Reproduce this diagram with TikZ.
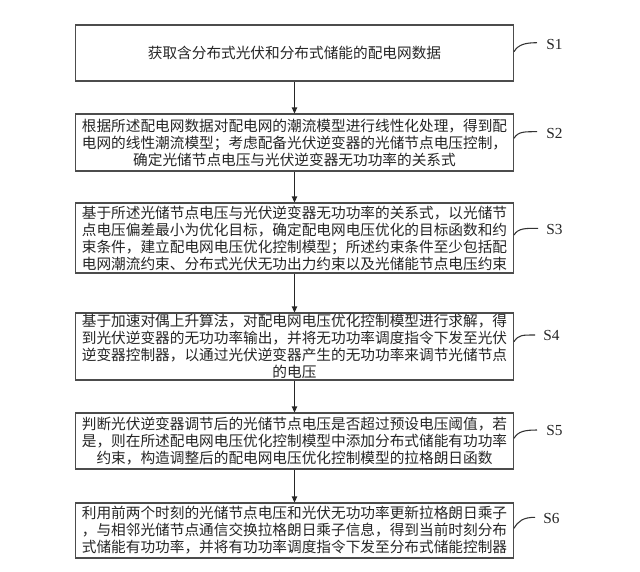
\documentclass[tikz,border=0pt]{standalone}
\usepackage{fontspec}
\setmainfont{Liberation Serif}
\newfontfamily\cjk{Noto Sans CJK SC}
\usetikzlibrary{arrows.meta,calc}
\tikzset{
  stepbox/.style={draw=black!70, line width=0.8pt, fill=white, minimum width=328.5pt,
    text width=324pt, align=center, inner xsep=0pt, inner ysep=0pt,
    font=\cjk\fontsize{11pt}{12.75pt}\selectfont, text=black!85},
  flow/.style={draw=black!85, line width=0.8pt, -{Triangle[length=4.5pt,width=4pt]}},
  leader/.style={draw=black!80, line width=0.8pt},
  steplabel/.style={font=\fontsize{11.5pt}{13pt}\selectfont, text=black!85, anchor=west, inner sep=0pt}
}
\begin{document}
\begin{tikzpicture}[x=0.75pt,y=-0.75pt]
\fill[white] (0,0) rectangle (640,572);
\useasboundingbox (0,0) rectangle (640,572);

\node[stepbox, minimum height=42pt] (b1) at (294.5,53) {获取含分布式光伏和分布式储能的配电网数据};
\node[stepbox, minimum height=42.75pt] (b2) at (294.5,142.5) {根据所述配电网数据对配电网的潮流模型进行线性化处理，得到配\\电网的线性潮流模型；考虑配备光伏逆变器的光储节点电压控制，\\确定光储节点电压与光伏逆变器无功功率的关系式};
\node[stepbox, minimum height=52.5pt] (b3) at (294.5,238) {基于所述光储节点电压与光伏逆变器无功功率的关系式，以光储节\\点电压偏差最小为优化目标，确定配电网电压优化的目标函数和约\\束条件，建立配电网电压优化控制模型；所述约束条件至少包括配\\电网潮流约束、分布式光伏无功出力约束以及光储能节点电压约束};
\node[stepbox, minimum height=50.25pt] (b4) at (294.5,346.5) {基于加速对偶上升算法，对配电网电压优化控制模型进行求解，得\\到光伏逆变器的无功功率输出，并将无功功率调度指令下发至光伏\\逆变器控制器，以通过光伏逆变器产生的无功功率来调节光储节点\\的电压};
\node[stepbox, minimum height=42pt] (b5) at (294.5,441) {判断光伏逆变器调节后的光储节点电压是否超过预设电压阈值，若\\是，则在所述配电网电压优化控制模型中添加分布式储能有功功率\\约束，构造调整后的配电网电压优化控制模型的拉格朗日函数};
\node[stepbox, minimum height=41.25pt] (b6) at (294.5,530.5) {利用前两个时刻的光储节点电压和光伏无功功率更新拉格朗日乘子\\，与相邻光储节点通信交换拉格朗日乘子信息，得到当前时刻分布\\式储能有功功率，并将有功功率调度指令下发至分布式储能控制器};

\draw[flow] (b1.south) -- (b2.north);
\draw[flow] (b2.south) -- (b3.north);
\draw[flow] (b3.south) -- (b4.north);
\draw[flow] (b4.south) -- (b5.north);
\draw[flow] (b5.south) -- (b6.north);

% labels
\node[steplabel] (l1) at (546,44) {S1};
\node[steplabel] (l2) at (546,133.3) {S2};
\node[steplabel] (l3) at (546,229.3) {S3};
\node[steplabel] (l4) at (543,335) {S4};
\node[steplabel] (l5) at (546,430.7) {S5};
\node[steplabel] (l6) at (543,518.3) {S6};

\coordinate (s1) at (b1.east |- 0,51.7);  \coordinate (e1) at (537,42.7);
\coordinate (s2) at (b2.east |- 0,138.3); \coordinate (e2) at (537,131.7);
\coordinate (s3) at (b3.east |- 0,235);   \coordinate (e3) at (538,228.3);
\coordinate (s4) at (b4.east |- 0,341.7); \coordinate (e4) at (535,335);
\coordinate (s5) at (b5.east |- 0,438.3); \coordinate (e5) at (537,430);
\coordinate (s6) at (b6.east |- 0,528.3); \coordinate (e6) at (535,517.3);

\foreach \i in {1,...,6}{
  \draw[leader] (s\i) .. controls ($(s\i)+(4,-7)$) and ($(e\i)+(-12,0)$) .. (e\i);
}
\end{tikzpicture}
\end{document}
